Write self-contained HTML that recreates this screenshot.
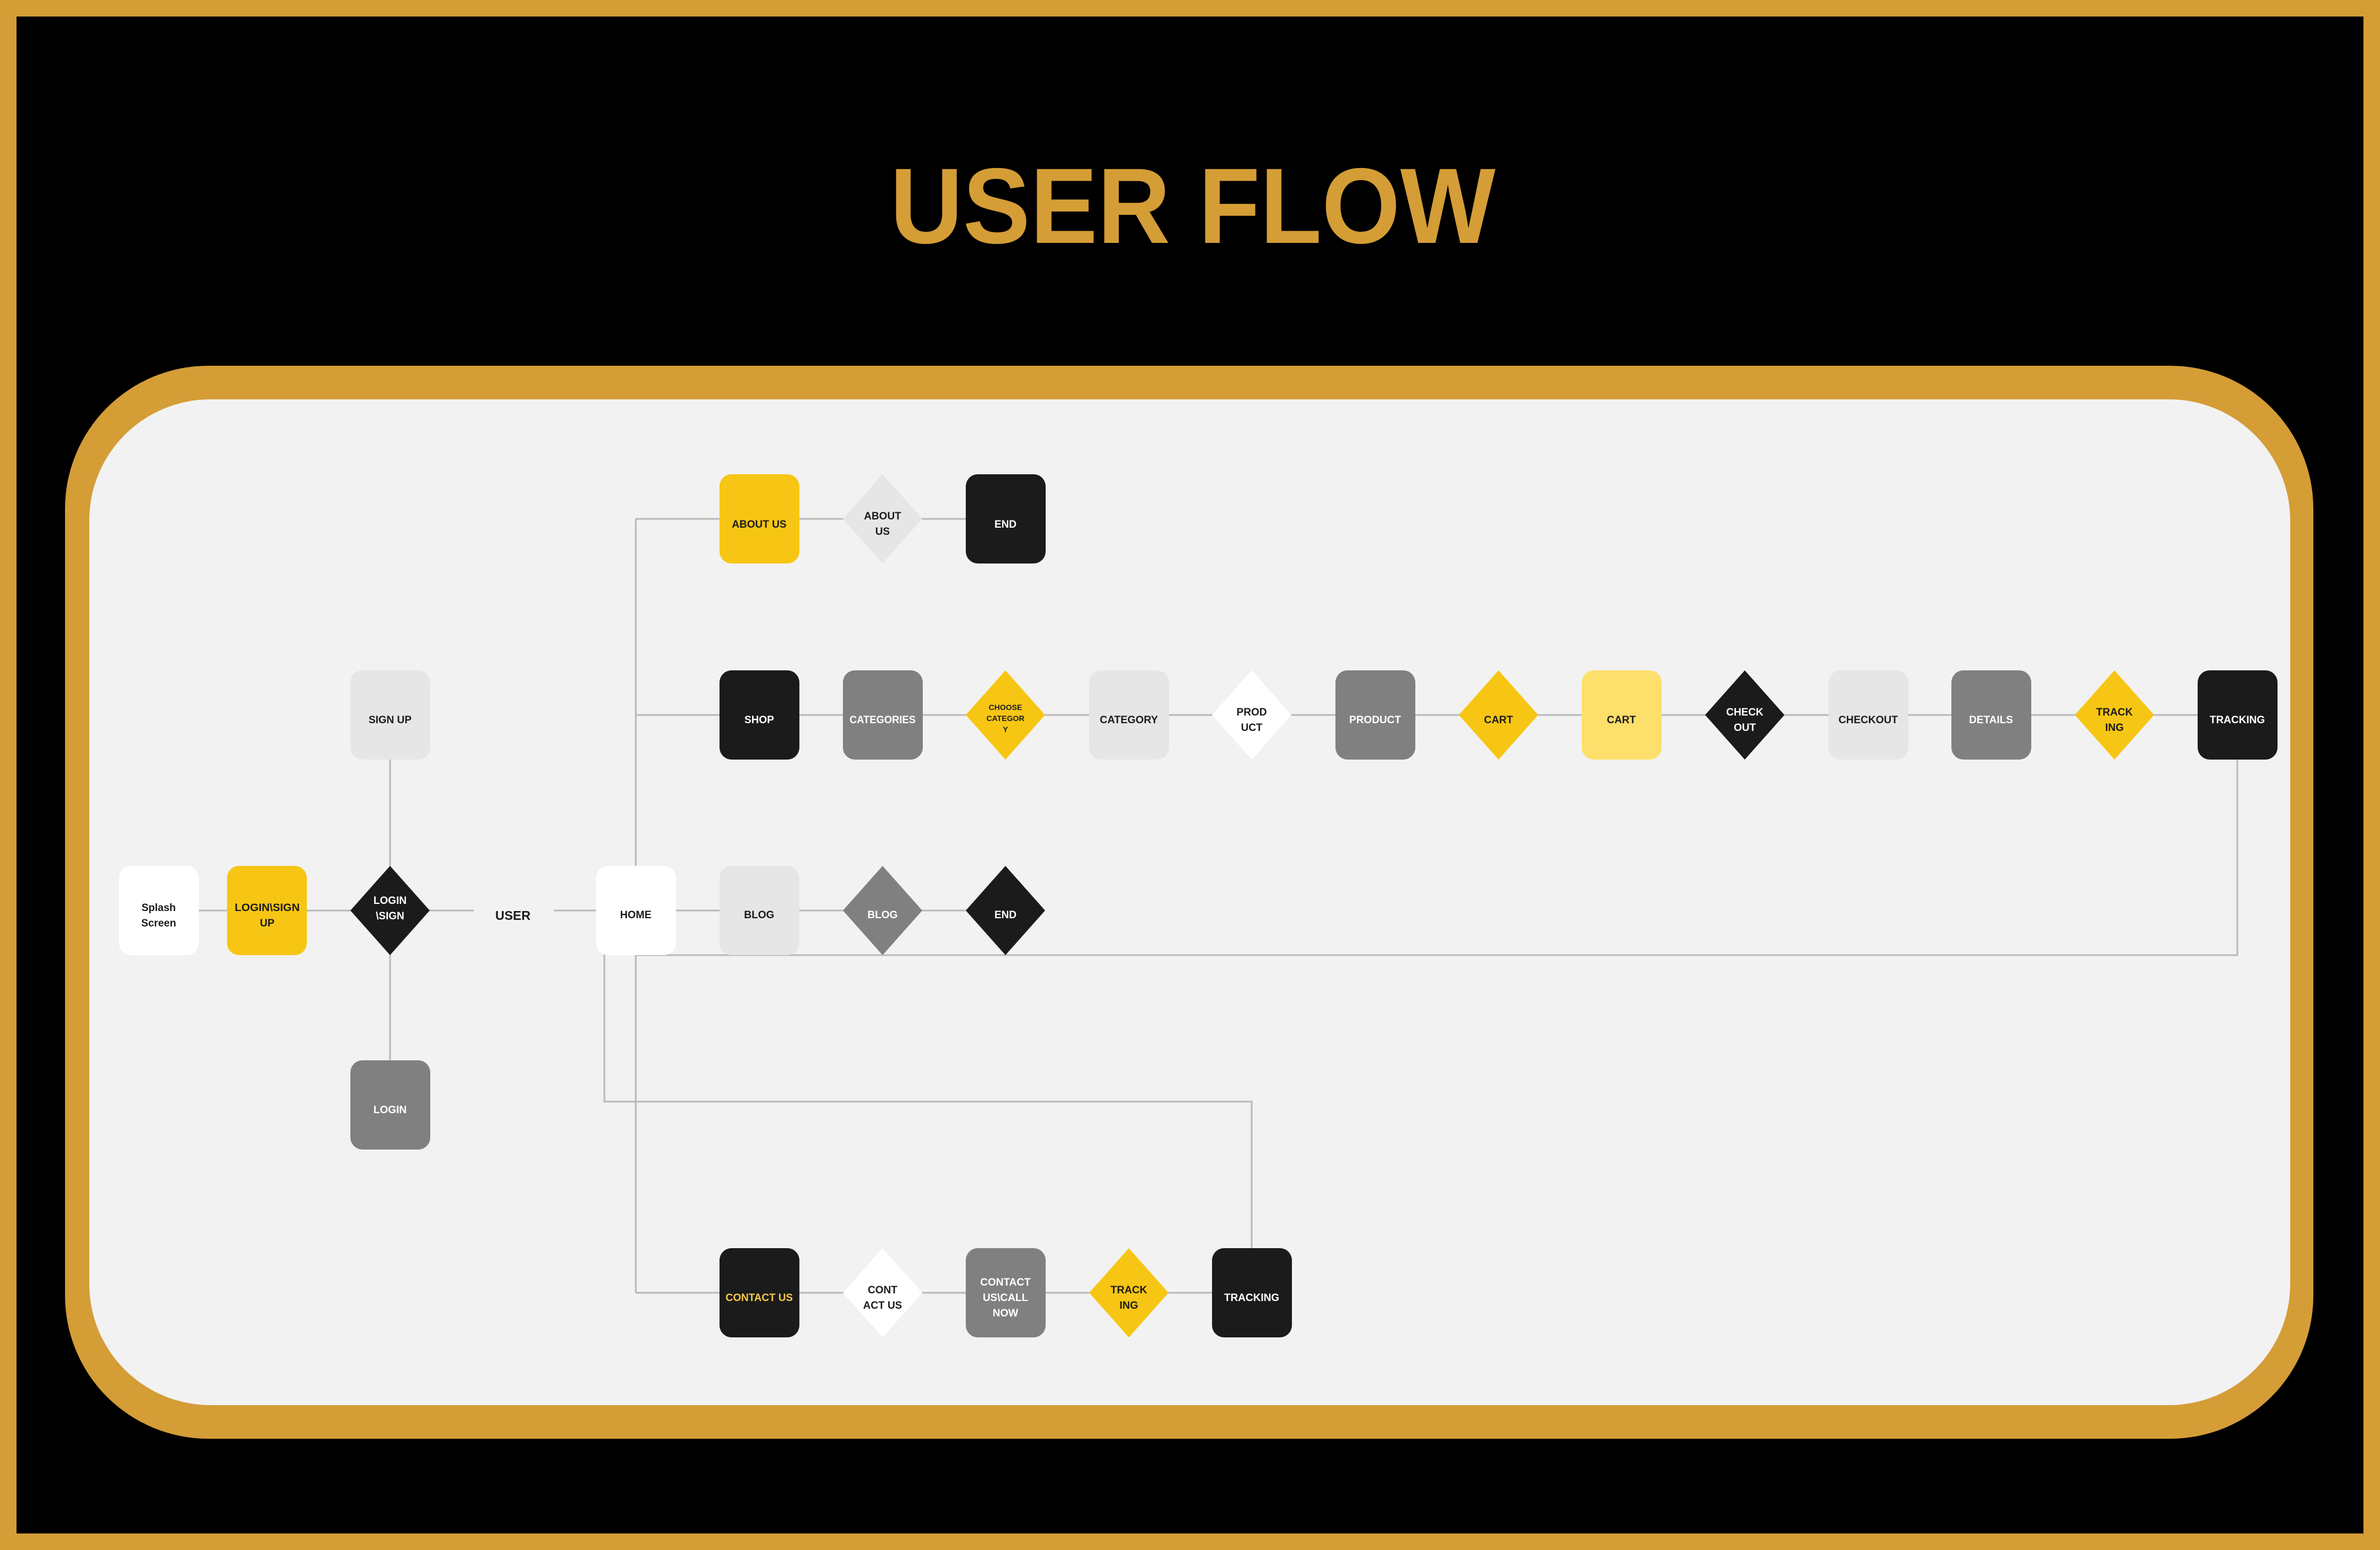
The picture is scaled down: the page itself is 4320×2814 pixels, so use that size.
<!DOCTYPE html>
<html><head><meta charset="utf-8"><style>
html,body{margin:0;padding:0;background:#000;}
svg{display:block}
text{font-family:"Liberation Sans",sans-serif;font-weight:bold;text-anchor:middle;}
</style></head><body>
<svg width="4320" height="2814" viewBox="0 0 4320 2814" xmlns="http://www.w3.org/2000/svg">
<rect x="0" y="0" width="4320" height="2814" fill="#D49D36"/>
<rect x="30" y="30" width="4260" height="2754" fill="#000"/>
<text x="2165" y="441" font-size="195" fill="#D49D36" textLength="1099" lengthAdjust="spacingAndGlyphs">USER FLOW</text>
<rect x="118" y="664" width="4081" height="1948" rx="260" fill="#D49D36"/>
<rect x="162" y="725" width="3995" height="1826" rx="220" fill="#F2F2F2"/>
<g stroke="#B8B8B8" stroke-width="3" fill="none">
<line x1="288" y1="1653" x2="860" y2="1653"/>
<line x1="1005" y1="1653" x2="1825" y2="1653"/>
<line x1="1154" y1="1298" x2="4061" y2="1298"/>
<line x1="1154" y1="942" x2="1825" y2="942"/>
<line x1="1154" y1="2347" x2="2272" y2="2347"/>
<line x1="1154" y1="942" x2="1154" y2="2347"/>
<line x1="708" y1="1298" x2="708" y2="2006"/>
<polyline points="4061,1298 4061,1734 1154,1734"/>
<polyline points="1097,1653 1097,2000 2272,2000 2272,2347"/>
</g>
<g font-size="19">
<rect x="1306" y="861" width="145" height="162" rx="22" fill="#F7C614"/><text x="1378" y="958" fill="#1b1b1b">ABOUT US</text>
<polygon points="1602,861 1674,942 1602,1023 1530,942" fill="#E6E6E6"/><text x="1602" y="943" fill="#1b1b1b">ABOUT</text><text x="1602" y="971" fill="#1b1b1b">US</text>
<rect x="1753" y="861" width="145" height="162" rx="22" fill="#1b1b1b"/><text x="1825" y="958" fill="#fff">END</text>
<rect x="1306" y="1217" width="145" height="162" rx="22" fill="#1b1b1b"/><text x="1378" y="1313" fill="#fff">SHOP</text>
<rect x="1530" y="1217" width="145" height="162" rx="22" fill="#808080"/><text x="1602" y="1313" fill="#fff" textLength="120" lengthAdjust="spacingAndGlyphs">CATEGORIES</text>
<polygon points="1825,1217 1897,1298 1825,1379 1753,1298" fill="#F7C614"/><text x="1825" y="1289" fill="#1b1b1b" font-size="14">CHOOSE</text><text x="1825" y="1309" fill="#1b1b1b" font-size="14">CATEGOR</text><text x="1825" y="1329" fill="#1b1b1b" font-size="14">Y</text>
<rect x="1977" y="1217" width="145" height="162" rx="22" fill="#E6E6E6"/><text x="2049" y="1313" fill="#1b1b1b">CATEGORY</text>
<polygon points="2272,1217 2344,1298 2272,1379 2200,1298" fill="#fff"/><text x="2272" y="1299" fill="#1b1b1b">PROD</text><text x="2272" y="1327" fill="#1b1b1b">UCT</text>
<rect x="2424" y="1217" width="145" height="162" rx="22" fill="#808080"/><text x="2496" y="1313" fill="#fff">PRODUCT</text>
<polygon points="2720,1217 2792,1298 2720,1379 2648,1298" fill="#F7C614"/><text x="2720" y="1313" fill="#1b1b1b">CART</text>
<rect x="2871" y="1217" width="145" height="162" rx="22" fill="#FDDF6B"/><text x="2943" y="1313" fill="#1b1b1b">CART</text>
<polygon points="3167,1217 3239,1298 3167,1379 3095,1298" fill="#1b1b1b"/><text x="3167" y="1299" fill="#fff">CHECK</text><text x="3167" y="1327" fill="#fff">OUT</text>
<rect x="3319" y="1217" width="145" height="162" rx="22" fill="#E6E6E6"/><text x="3391" y="1313" fill="#1b1b1b">CHECKOUT</text>
<rect x="3542" y="1217" width="145" height="162" rx="22" fill="#808080"/><text x="3614" y="1313" fill="#fff">DETAILS</text>
<polygon points="3838,1217 3910,1298 3838,1379 3766,1298" fill="#F7C614"/><text x="3838" y="1299" fill="#1b1b1b">TRACK</text><text x="3838" y="1327" fill="#1b1b1b">ING</text>
<rect x="3989" y="1217" width="145" height="162" rx="22" fill="#1b1b1b"/><text x="4061" y="1313" fill="#fff">TRACKING</text>
<rect x="636" y="1217" width="145" height="162" rx="22" fill="#E6E6E6"/><text x="708" y="1313" fill="#1b1b1b">SIGN UP</text>
<rect x="636" y="1925" width="145" height="162" rx="22" fill="#808080"/><text x="708" y="2021" fill="#fff">LOGIN</text>
<rect x="216" y="1572" width="145" height="162" rx="22" fill="#fff"/><text x="288" y="1654" fill="#1b1b1b">Splash</text><text x="288" y="1682" fill="#1b1b1b">Screen</text>
<rect x="412" y="1572" width="145" height="162" rx="22" fill="#F7C614"/><text x="485" y="1654" fill="#1b1b1b" textLength="118" lengthAdjust="spacingAndGlyphs">LOGIN\SIGN</text><text x="485" y="1682" fill="#1b1b1b">UP</text>
<polygon points="708,1572 780,1653 708,1734 636,1653" fill="#1b1b1b"/><text x="708" y="1641" fill="#fff">LOGIN</text><text x="708" y="1669" fill="#fff">\SIGN</text>
<text x="931" y="1670" fill="#1b1b1b" font-size="23">USER</text>
<rect x="1082" y="1572" width="145" height="162" rx="22" fill="#fff"/><text x="1154" y="1667" fill="#1b1b1b">HOME</text>
<rect x="1306" y="1572" width="145" height="162" rx="22" fill="#E6E6E6"/><text x="1378" y="1667" fill="#1b1b1b">BLOG</text>
<polygon points="1602,1572 1674,1653 1602,1734 1530,1653" fill="#808080"/><text x="1602" y="1667" fill="#fff">BLOG</text>
<polygon points="1825,1572 1897,1653 1825,1734 1753,1653" fill="#1b1b1b"/><text x="1825" y="1667" fill="#fff">END</text>
<rect x="1306" y="2266" width="145" height="162" rx="22" fill="#1b1b1b"/><text x="1378" y="2362" fill="#F5C94A" textLength="122" lengthAdjust="spacingAndGlyphs">CONTACT US</text>
<polygon points="1602,2266 1674,2347 1602,2428 1530,2347" fill="#fff"/><text x="1602" y="2348" fill="#1b1b1b">CONT</text><text x="1602" y="2376" fill="#1b1b1b">ACT US</text>
<rect x="1753" y="2266" width="145" height="162" rx="22" fill="#808080"/><text x="1825" y="2334" fill="#fff">CONTACT</text><text x="1825" y="2362" fill="#fff">US\CALL</text><text x="1825" y="2390" fill="#fff">NOW</text>
<polygon points="2049,2266 2121,2347 2049,2428 1977,2347" fill="#F7C614"/><text x="2049" y="2348" fill="#1b1b1b">TRACK</text><text x="2049" y="2376" fill="#1b1b1b">ING</text>
<rect x="2200" y="2266" width="145" height="162" rx="22" fill="#1b1b1b"/><text x="2272" y="2362" fill="#fff">TRACKING</text>
</g>
</svg>
</body></html>
